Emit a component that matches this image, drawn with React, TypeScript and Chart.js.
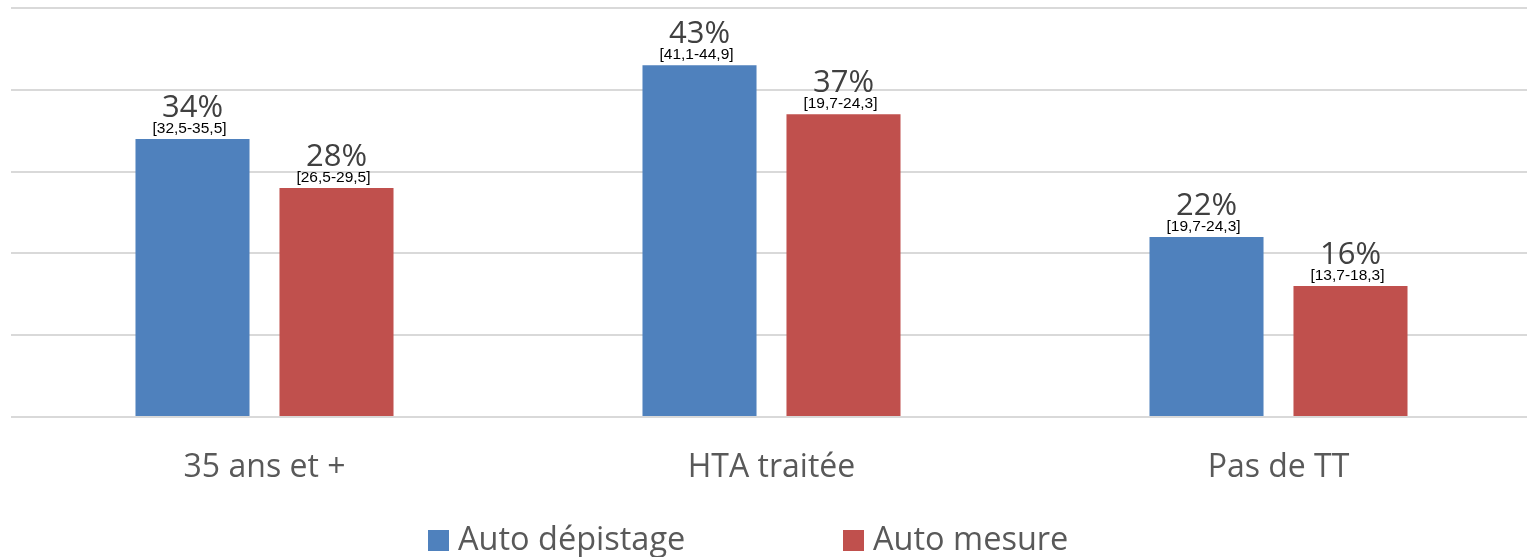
import React, { useEffect, useRef } from 'react';
import { Chart, registerables } from 'chart.js';

Chart.register(...registerables);

// ---- data ----
const categories = ['35 ans et +', 'HTA traitée', 'Pas de TT'];
const seriesNames = ['Auto dépistage', 'Auto mesure'];
const autoDepistage = [34, 43, 22];
const autoMesure = [28, 37, 16];
const ciDepistage = ['[32,5-35,5]', '[41,1-44,9]', '[19,7-24,3]'];
const ciMesure = ['[26,5-29,5]', '[19,7-24,3]', '[13,7-18,3]'];
const yTicks = [0, 10, 20, 30, 40, 50];

const seriesColors = ['#4F81BD', '#C0504D'];
const FONT = "'Open Sans', sans-serif";

const valueLabelPlugin = {
  id: 'valueLabels',
  afterDatasetsDraw(chart: any) {
    const ctx = chart.ctx;
    ctx.save();
    chart.data.datasets.forEach((ds: any, i: number) => {
      const meta = chart.getDatasetMeta(i);
      meta.data.forEach((el: any, j: number) => {
        const v = ds.data[j];
        ctx.textAlign = 'center';
        ctx.textBaseline = 'alphabetic';
        ctx.fillStyle = '#404040';
        ctx.font = `31px ${FONT}`;
        ctx.fillText(`${Math.round(v)}%`, el.x, el.y - 22);
        ctx.fillStyle = '#000000';
        ctx.font = `15.5px 'Liberation Sans', Arial, sans-serif`;
        ctx.fillText(ds.ci[j], el.x - 3, el.y - 6);
      });
    });
    ctx.restore();
  },
};

const legendPlugin = {
  id: 'bottomLegend',
  afterDraw(chart: any) {
    const ctx = chart.ctx;
    ctx.save();
    const startX = 428;
    const pitch = 415;
    const box = 21;
    const boxTop = 530;
    const baseY = 550;
    chart.data.datasets.forEach((ds: any, i: number) => {
      const x = startX + i * pitch;
      ctx.fillStyle = ds.backgroundColor;
      ctx.fillRect(x, boxTop, box, box);
      ctx.fillStyle = '#595959';
      ctx.font = `32.5px ${FONT}`;
      ctx.textAlign = 'left';
      ctx.textBaseline = 'alphabetic';
      ctx.fillText(ds.label, x + box + 9, baseY);
    });
    ctx.restore();
  },
};

export default function App() {
  const canvasRef = useRef<HTMLCanvasElement | null>(null);

  useEffect(() => {
    const canvas = canvasRef.current;
    if (!canvas) return;
    const chart = new Chart(canvas, {
      type: 'bar',
      data: {
        labels: categories,
        datasets: [
          {
            label: seriesNames[0],
            data: autoDepistage,
            backgroundColor: seriesColors[0],
            ci: ciDepistage,
            categoryPercentage: 0.568,
            barPercentage: 0.792,
          } as any,
          {
            label: seriesNames[1],
            data: autoMesure,
            backgroundColor: seriesColors[1],
            ci: ciMesure,
            categoryPercentage: 0.568,
            barPercentage: 0.792,
          } as any,
        ],
      },
      options: {
        responsive: false,
        animation: false,
        devicePixelRatio: 1,
        layout: { padding: { left: 11, right: 1, top: 8, bottom: 37.6 } },
        plugins: {
          legend: { display: false },
          tooltip: { enabled: false },
        },
        scales: {
          x: {
            grid: { display: false, drawTicks: false, tickLength: 0 },
            border: { display: false },
            ticks: {
              color: '#595959',
              font: { family: FONT, size: 32 },
              padding: 32,
              maxRotation: 0,
              autoSkip: false,
            },
          },
          y: {
            min: yTicks[0],
            max: yTicks[yTicks.length - 1],
            afterBuildTicks: (axis: any) => {
              axis.ticks = yTicks.map((v) => ({ value: v }));
            },
            grid: { color: '#D9D9D9', lineWidth: 2, drawTicks: false, tickLength: 0 },
            border: { display: false },
            ticks: { display: false },
          },
        },
      },
      plugins: [valueLabelPlugin, legendPlugin],
    });
    return () => chart.destroy();
  }, []);

  return (
    <div
      style={{
        position: 'fixed',
        left: 0,
        top: 0,
        width: 1527,
        height: 557,
        overflow: 'hidden',
        background: '#ffffff',
      }}
    >
      <canvas ref={canvasRef} width={1533} height={557} style={{ display: 'block' }} />
    </div>
  );
}
